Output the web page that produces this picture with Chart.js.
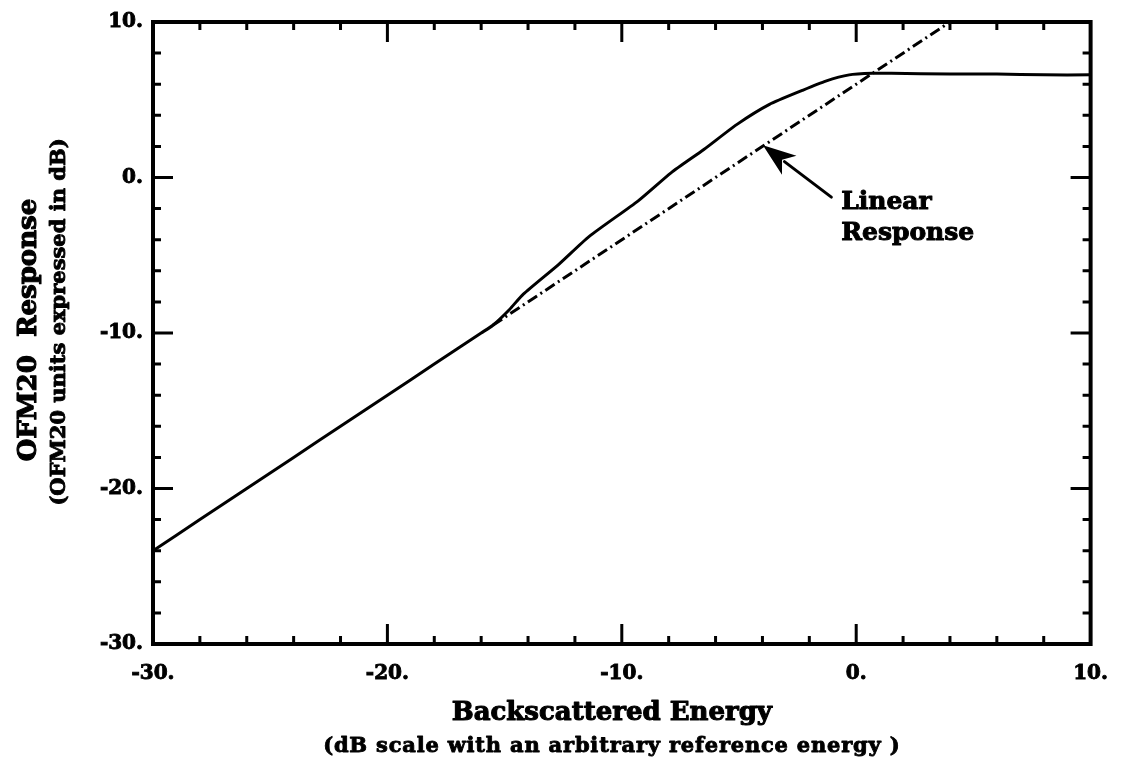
<!DOCTYPE html>
<html>
<head>
<meta charset="utf-8">
<script src="https://cdn.jsdelivr.net/npm/chart.js@4.4.1/dist/chart.umd.min.js"></script>
<style>
  html, body { margin: 0; padding: 0; background: #ffffff; }
  #wrap { width: 1126px; height: 764px; }
</style>
</head>
<body>
<div id="wrap"><canvas id="c" width="1126" height="764"></canvas></div>
<script>
// Measured OFM20 response versus backscattered energy (both in dB)
const energyDb = [-30, -28, -26, -24, -22, -20, -18, -16, -15.5, -14.8, -14.2, -12.7, -11.4, -9.3, -7.9, -6.5, -5.1, -3.7, -2.3, -1.3, -0.3, 0.7, 1.5, 4, 6, 8, 10];
const responseDb = [-24, -22, -20, -18, -16, -14, -12, -10, -9.5, -8.5, -7.5, -5.6, -3.8, -1.5, 0.3, 1.8, 3.4, 4.7, 5.6, 6.2, 6.6, 6.7, 6.7, 6.65, 6.65, 6.6, 6.6];

// Ideal linear response, continued past the point where the measurement departs from it
const linearEnergyDb = [-15.5, 4];
const linearResponseDb = [-9.5, 10];

// Axis ranges and tick labels
const xRange = [-30, 10];
const yRange = [-30, 10];
const tickStep = 2;
const labelStep = 10;

// Callout text and the arrow pointing at the linear line (data units)
const calloutLines = ['Linear', 'Response'];
const calloutAnchor = { x: -0.64, y: -1.58 };
const arrowTail = { x: -1.06, y: -1.26 };
const arrowTip = { x: -3.98, y: 2.07 };

const xTitle = 'Backscattered Energy';
const xSubtitle = '(dB scale with an arbitrary reference energy )';
const yTitle = 'OFM20  Response';
const ySubtitle = '(OFM20 units expressed in dB)';

const SERIF = '"DejaVu Serif", "Liberation Serif", serif';

const toPoints = (xs, ys) => xs.map((v, i) => ({ x: v, y: ys[i] }));

// Heavy printed-style text: fill plus a thin outline of the same colour
function heavyText(ctx, text, x, y, size, spacing, weight) {
  ctx.font = 'bold ' + size + 'px ' + SERIF;
  ctx.letterSpacing = (spacing || 0) + 'px';
  ctx.lineWidth = weight || 0.9;
  ctx.lineJoin = 'round';
  ctx.fillText(text, x, y);
  ctx.strokeText(text, x, y);
  ctx.letterSpacing = '0px';
}

// Boxed frame with inward ticks on all four sides
const frameTicks = {
  id: 'frameTicks',
  afterDatasetsDraw(chart) {
    const { ctx, chartArea: a, scales: { x, y } } = chart;
    ctx.save();
    ctx.strokeStyle = '#000';
    ctx.lineCap = 'butt';
    ctx.lineWidth = 3;
    x.ticks.forEach(t => {
      const px = x.getPixelForValue(t.value);
      if (px <= a.left + 2 || px >= a.right - 2) return;
      const len = t.value % labelStep === 0 ? 20 : 8;
      ctx.beginPath();
      ctx.moveTo(px, a.bottom); ctx.lineTo(px, a.bottom - len);
      ctx.moveTo(px, a.top); ctx.lineTo(px, a.top + len);
      ctx.stroke();
    });
    y.ticks.forEach(t => {
      const py = y.getPixelForValue(t.value);
      if (py <= a.top + 2 || py >= a.bottom - 2) return;
      const len = t.value % labelStep === 0 ? 20 : 8;
      ctx.beginPath();
      ctx.moveTo(a.left, py); ctx.lineTo(a.left + len, py);
      ctx.moveTo(a.right, py); ctx.lineTo(a.right - len, py);
      ctx.stroke();
    });
    ctx.lineWidth = 4;
    ctx.strokeRect(a.left, a.top, a.right - a.left, a.bottom - a.top);
    ctx.restore();
  }
};

// Axis titles, callout text and arrow
const decorations = {
  id: 'decorations',
  afterDraw(chart) {
    const { ctx, chartArea: a, scales: { x, y } } = chart;
    ctx.save();
    ctx.fillStyle = '#000';
    ctx.strokeStyle = '#000';
    ctx.textBaseline = 'middle';

    // x axis title block
    ctx.textAlign = 'center';
    const cx = (a.left + a.right) / 2 - 10;
    heavyText(ctx, xTitle, cx, 713, 26, 0, 1.1);
    heavyText(ctx, xSubtitle, cx, 747, 21, 0.8, 0.9);

    // y axis title block
    ctx.save();
    ctx.translate(29, 330);
    ctx.rotate(-Math.PI / 2);
    heavyText(ctx, yTitle, 0, 0, 26, 0, 1.1);
    ctx.restore();
    ctx.save();
    ctx.translate(60, 322);
    ctx.rotate(-Math.PI / 2);
    heavyText(ctx, ySubtitle, 0, 0, 21, 0, 0.9);
    ctx.restore();

    // callout
    ctx.textAlign = 'left';
    const lx = x.getPixelForValue(calloutAnchor.x);
    const ly = y.getPixelForValue(calloutAnchor.y);
    calloutLines.forEach((s, i) => heavyText(ctx, s, lx, ly + i * 31, 25, 0, 1.0));

    const tx = x.getPixelForValue(arrowTip.x), ty = y.getPixelForValue(arrowTip.y);
    const sx = x.getPixelForValue(arrowTail.x), sy = y.getPixelForValue(arrowTail.y);
    const ang = Math.atan2(ty - sy, tx - sx);
    const headLen = 33, headHalf = 12;
    const bx = tx - headLen * Math.cos(ang), by = ty - headLen * Math.sin(ang);
    ctx.lineWidth = 3;
    ctx.lineCap = 'round';
    ctx.beginPath();
    ctx.moveTo(sx, sy);
    ctx.lineTo(bx + 6 * Math.cos(ang), by + 6 * Math.sin(ang));
    ctx.stroke();
    ctx.beginPath();
    ctx.moveTo(tx, ty);
    ctx.lineTo(bx - headHalf * Math.sin(ang), by + headHalf * Math.cos(ang));
    ctx.lineTo(bx + 9 * Math.cos(ang), by + 9 * Math.sin(ang));
    ctx.lineTo(bx + headHalf * Math.sin(ang), by - headHalf * Math.cos(ang));
    ctx.closePath();
    ctx.fill();
    ctx.restore();
  }
};

const tickLabel = v => (v % labelStep === 0 ? v + '.' : '');
const tickFont = { family: SERIF, size: 20, weight: 'bold' };

new Chart(document.getElementById('c'), {
  type: 'scatter',
  data: {
    datasets: [
      {
        label: 'Linear response',
        data: toPoints(linearEnergyDb, linearResponseDb),
        showLine: true,
        borderColor: '#000',
        borderWidth: 3,
        borderDash: [11, 4, 2, 4],
        pointRadius: 0,
        tension: 0
      },
      {
        label: 'OFM20 response',
        data: toPoints(energyDb, responseDb),
        showLine: true,
        borderColor: '#000',
        borderWidth: 3,
        pointRadius: 0,
        tension: 0.2
      }
    ]
  },
  options: {
    responsive: false,
    animation: false,
    devicePixelRatio: 1,
    layout: { padding: { left: 0, top: 19, right: 14, bottom: 0 } },
    plugins: {
      legend: { display: false },
      tooltip: { enabled: false }
    },
    scales: {
      x: {
        type: 'linear',
        min: xRange[0],
        max: xRange[1],
        grid: { display: false, drawTicks: false },
        border: { display: false },
        afterFit: s => { s.height = 120; },
        ticks: {
          stepSize: tickStep,
          autoSkip: false,
          maxRotation: 0,
          padding: 18,
          color: '#000',
          textStrokeColor: '#000',
          textStrokeWidth: 0.9,
          font: tickFont,
          callback: tickLabel
        }
      },
      y: {
        type: 'linear',
        min: yRange[0],
        max: yRange[1],
        grid: { display: false, drawTicks: false },
        border: { display: false },
        afterFit: s => { s.width = 153; },
        ticks: {
          stepSize: tickStep,
          autoSkip: false,
          padding: 10,
          color: '#000',
          textStrokeColor: '#000',
          textStrokeWidth: 0.9,
          font: tickFont,
          callback: tickLabel
        }
      }
    }
  },
  plugins: [frameTicks, decorations]
});
</script>
</body>
</html>
